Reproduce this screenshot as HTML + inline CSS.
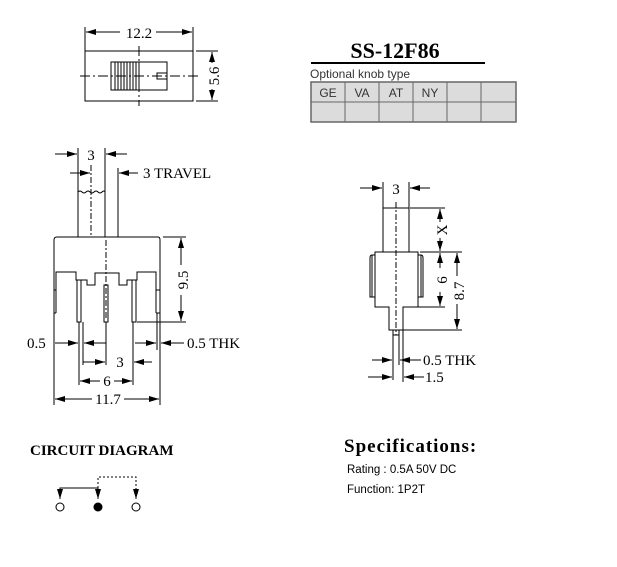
<!DOCTYPE html>
<html><head><meta charset="utf-8"><style>
html,body{margin:0;padding:0;background:#fff;width:617px;height:567px;overflow:hidden}
svg{display:block}
.s{font-family:"Liberation Serif",serif}
.a{font-family:"Liberation Sans",sans-serif}
</style></head><body>
<svg width="617" height="567" viewBox="0 0 617 567" xmlns="http://www.w3.org/2000/svg">
<defs>
<marker id="ar" viewBox="0 0 10 6" refX="10" refY="3" markerWidth="10" markerHeight="6" orient="auto" markerUnits="userSpaceOnUse"><path d="M0,0 L10,3 L0,6 z" fill="#000"/></marker>
</defs>
<g stroke="#000" stroke-width="1" fill="none">
<line x1="85" y1="27" x2="85" y2="51"/><line x1="193" y1="27" x2="193" y2="51"/>
<line x1="120" y1="32" x2="86" y2="32" marker-end="url(#ar)"/><line x1="156" y1="32" x2="192" y2="32" marker-end="url(#ar)"/>
<rect x="85" y="51" width="108" height="50"/>
<rect x="111" y="62" width="56" height="28"/>
<rect x="111" y="62" width="28" height="28" fill="#fff"/>
<line x1="115" y1="62" x2="115" y2="90"/><line x1="118" y1="62" x2="118" y2="90"/><line x1="121" y1="62" x2="121" y2="90"/><line x1="124" y1="62" x2="124" y2="90"/><line x1="127" y1="62" x2="127" y2="90"/><line x1="130" y1="62" x2="130" y2="90"/><line x1="133" y1="62" x2="133" y2="90"/><line x1="136" y1="62" x2="136" y2="90"/>
<rect x="157" y="73" width="10" height="6"/>
<line x1="139" y1="46" x2="139" y2="106" stroke-dasharray="10,3,2,3"/>
<line x1="80" y1="76" x2="198" y2="76" stroke-dasharray="10,3,2,3"/>
<line x1="196" y1="51" x2="218" y2="51"/><line x1="196" y1="101" x2="218" y2="101"/>
<line x1="212" y1="63" x2="212" y2="52" marker-end="url(#ar)"/><line x1="212" y1="89" x2="212" y2="100" marker-end="url(#ar)"/>
<line x1="311" y1="63" x2="485" y2="63" stroke-width="2"/>
<rect x="311" y="82" width="205" height="40" fill="#dcdcdc" stroke="#666" stroke-width="1.5"/>
<line x1="311" y1="102" x2="516" y2="102" stroke="#666"/>
<line x1="345" y1="82" x2="345" y2="122" stroke="#666"/><line x1="379" y1="82" x2="379" y2="122" stroke="#666"/><line x1="413" y1="82" x2="413" y2="122" stroke="#666"/><line x1="447" y1="82" x2="447" y2="122" stroke="#666"/><line x1="481" y1="82" x2="481" y2="122" stroke="#666"/>

<line x1="78" y1="148" x2="78" y2="237"/><line x1="105" y1="148" x2="105" y2="237"/>
<line x1="55" y1="154" x2="77" y2="154" marker-end="url(#ar)"/><line x1="127" y1="154" x2="106" y2="154" marker-end="url(#ar)"/>
<path d="M78,192 q2,-2 4,0 t4,0 t4,0 t4,0 t4,0 t4,0 t3,0"/>
<line x1="91" y1="165" x2="91" y2="237" stroke-dasharray="6,2,2,2"/>
<line x1="118" y1="168" x2="118" y2="237"/>
<line x1="70" y1="173" x2="90" y2="173" marker-end="url(#ar)"/><line x1="138" y1="173" x2="119" y2="173" marker-end="url(#ar)"/>
<path d="M56,313 L54,313 L54,240 Q54,237 57,237 L158,237 Q160,237 160,240 L160,313 L156,313"/>
<path d="M56,313 L56,272 L76,272 L76,280 L87,280 L87,285 L95,285 L95,273 L119,273 L119,285 L127,285 L127,280 L137,280 L137,272 L156,272 L156,313"/>
<line x1="54" y1="290" x2="56" y2="290"/><line x1="156" y1="290" x2="160" y2="290"/>
<rect x="77" y="280" width="4" height="42"/><rect x="104" y="285" width="4" height="37"/><rect x="132" y="280" width="4" height="42"/>
<line x1="106" y1="240" x2="106" y2="320" stroke-dasharray="6,2,2,2"/>
<line x1="163" y1="237" x2="186" y2="237"/><line x1="137" y1="322" x2="186" y2="322"/>
<line x1="181" y1="265" x2="181" y2="238" marker-end="url(#ar)"/><line x1="181" y1="295" x2="181" y2="321" marker-end="url(#ar)"/>
<line x1="54" y1="313" x2="54" y2="405"/><line x1="79" y1="322" x2="79" y2="385"/><line x1="83" y1="322" x2="83" y2="365"/>
<line x1="106" y1="322" x2="106" y2="365"/><line x1="133" y1="322" x2="133" y2="385"/>
<line x1="157" y1="313" x2="157" y2="350"/><line x1="160" y1="313" x2="160" y2="405"/>
<line x1="55" y1="343" x2="78" y2="343" marker-end="url(#ar)"/><line x1="106" y1="343" x2="84" y2="343" marker-end="url(#ar)"/>
<line x1="135" y1="343" x2="156" y2="343" marker-end="url(#ar)"/><line x1="184" y1="343" x2="161" y2="343" marker-end="url(#ar)"/>
<line x1="83" y1="362" x2="105" y2="362" marker-end="url(#ar)"/><line x1="152" y1="362" x2="134" y2="362" marker-end="url(#ar)"/>
<line x1="100" y1="381" x2="80" y2="381" marker-end="url(#ar)"/><line x1="114" y1="381" x2="132" y2="381" marker-end="url(#ar)"/>
<line x1="92" y1="399" x2="55" y2="399" marker-end="url(#ar)"/><line x1="124" y1="399" x2="159" y2="399" marker-end="url(#ar)"/>

<line x1="383" y1="182" x2="383" y2="208"/><line x1="409" y1="182" x2="409" y2="208"/>
<line x1="360" y1="188" x2="382" y2="188" marker-end="url(#ar)"/><line x1="430" y1="188" x2="410" y2="188" marker-end="url(#ar)"/>
<rect x="383" y="208" width="26" height="44"/>
<path d="M375,252 L418,252 L418,307 L403,307 L403,330 L389,330 L389,307 L375,307 Z"/>
<path d="M375,255 L372,255 Q370,255 370,258 L370,297 L375,297"/><line x1="372" y1="255" x2="372" y2="297"/>
<path d="M418,255 L421,255 Q423,255 423,258 L423,297 L418,297"/><line x1="421" y1="255" x2="421" y2="297"/>
<rect x="393" y="330" width="6" height="5"/>
<line x1="396" y1="202" x2="396" y2="335" stroke-dasharray="6,2,2,2"/>
<line x1="393" y1="335" x2="393" y2="380"/><line x1="399" y1="335" x2="399" y2="365"/><line x1="403" y1="330" x2="403" y2="382"/>
<line x1="410" y1="208" x2="445" y2="208"/><line x1="420" y1="252" x2="462" y2="252"/><line x1="418" y1="307" x2="445" y2="307"/><line x1="403" y1="330" x2="462" y2="330"/>
<line x1="440" y1="222" x2="440" y2="209" marker-end="url(#ar)"/><line x1="440" y1="238" x2="440" y2="251" marker-end="url(#ar)"/>
<line x1="440" y1="268" x2="440" y2="253" marker-end="url(#ar)"/><line x1="440" y1="292" x2="440" y2="306" marker-end="url(#ar)"/>
<line x1="457" y1="276" x2="457" y2="253" marker-end="url(#ar)"/><line x1="457" y1="304" x2="457" y2="329" marker-end="url(#ar)"/>
<line x1="372" y1="360" x2="392" y2="360" marker-end="url(#ar)"/><line x1="421" y1="360" x2="400" y2="360" marker-end="url(#ar)"/>
<line x1="368" y1="377" x2="392" y2="377" marker-end="url(#ar)"/><line x1="424" y1="377" x2="404" y2="377" marker-end="url(#ar)"/>

<path d="M60,498 L60,488 L98,488 L98,498"/>
<line x1="60" y1="493" x2="60" y2="499" marker-end="url(#ar)"/>
<line x1="98" y1="493" x2="98" y2="499" marker-end="url(#ar)"/>
<path d="M98,488 L98,477 L136,477 L136,499" stroke-dasharray="2,2"/>
<line x1="136" y1="494" x2="136" y2="499" marker-end="url(#ar)"/>
<circle cx="60" cy="507" r="4"/><circle cx="98" cy="507" r="4" fill="#000"/><circle cx="136" cy="507" r="4"/>
</g>
<g fill="#000">
<text x="139" y="38" class="s" font-size="15" text-anchor="middle">12.2</text>
<text class="s" font-size="15" text-anchor="middle" transform="translate(219,76) rotate(-90)">5.6</text>
<text x="395" y="58" class="s" font-size="22" font-weight="bold" text-anchor="middle">SS-12F86</text>
<text x="310" y="78" class="a" font-size="12" fill="#333">Optional knob type</text>
<g class="a" font-size="12" fill="#333" text-anchor="middle">
<text x="328" y="97">GE</text><text x="362" y="97">VA</text><text x="396" y="97">AT</text><text x="430" y="97">NY</text>
</g>
<text x="91" y="160" class="s" font-size="15" text-anchor="middle">3</text>
<text x="143" y="178" class="s" font-size="15">3 TRAVEL</text>
<text class="s" font-size="15" text-anchor="middle" transform="translate(188,280) rotate(-90)">9.5</text>
<text x="27" y="348" class="s" font-size="15">0.5</text>
<text x="187" y="348" class="s" font-size="15">0.5 THK</text>
<text x="120" y="367" class="s" font-size="15" text-anchor="middle">3</text>
<text x="107" y="386" class="s" font-size="15" text-anchor="middle">6</text>
<text x="108" y="404" class="s" font-size="15" text-anchor="middle">11.7</text>
<text x="396" y="194" class="s" font-size="15" text-anchor="middle">3</text>
<text class="s" font-size="15" text-anchor="middle" transform="translate(447,230) rotate(-90)">X</text>
<text class="s" font-size="15" text-anchor="middle" transform="translate(447,280) rotate(-90)">6</text>
<text class="s" font-size="15" text-anchor="middle" transform="translate(464,291) rotate(-90)">8.7</text>
<text x="423" y="365" class="s" font-size="15">0.5 THK</text>
<text x="425" y="382" class="s" font-size="15">1.5</text>
<text x="30" y="455" class="s" font-size="15" font-weight="bold">CIRCUIT DIAGRAM</text>
<text x="344" y="452" class="s" font-size="19" font-weight="bold" letter-spacing="1">Specifications:</text>
<text x="347" y="473" class="a" font-size="11.5">Rating : 0.5A 50V DC</text>
<text x="347" y="493" class="a" font-size="11.5">Function: 1P2T</text>
</g>
</svg>
</body></html>
